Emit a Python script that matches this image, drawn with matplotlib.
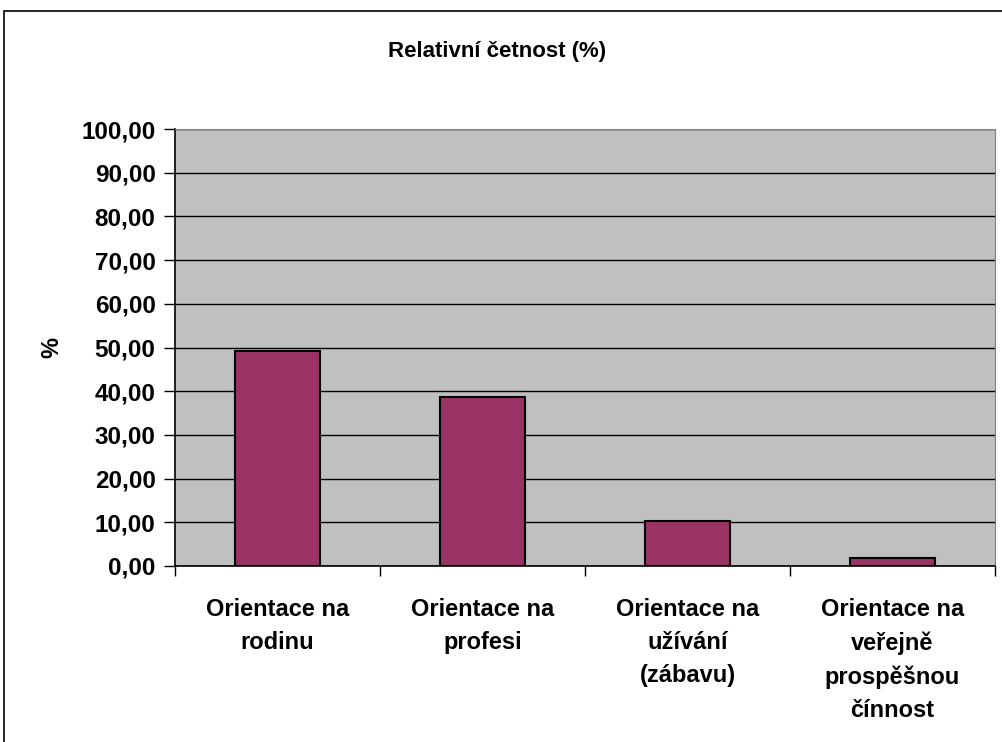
import matplotlib
matplotlib.use("Agg")
import matplotlib.pyplot as plt
from matplotlib.patches import Rectangle
import numpy as np

# ---------------------------------------------------------------------------
# Data
# ---------------------------------------------------------------------------
categories = [
    "Orientace na\nrodinu",
    "Orientace na\nprofesi",
    "Orientace na\nužívání\n(zábavu)",
    "Orientace na\nveřejně\nprospěšnou\nčínnost",
]
values = [49.1, 38.7, 10.4, 1.8]
y_ticks = np.arange(0, 101, 10)
y_tick_labels = [f"{v:.2f}".replace(".", ",") for v in y_ticks]

plt.rcParams["font.family"] = ["Liberation Sans", "DejaVu Sans"]
plt.rcParams["font.weight"] = "bold"

W, H = 1003, 742
fig = plt.figure(figsize=(W / 100, H / 100), dpi=100)
ax = fig.add_axes([175 / W, 1 - 566 / H, (995 - 175) / W, (566 - 129) / H])

x = np.arange(len(categories))
ax.bar(x, values, width=0.41, color="#993366", edgecolor="black", linewidth=1.5, zorder=3)

ax.set_xlim(-0.5, len(categories) - 0.5)
ax.set_ylim(0, 100)
ax.set_facecolor("#c0c0c0")

ax.set_yticks(y_ticks)
ax.set_yticklabels(y_tick_labels, fontsize=17.5, fontweight="bold")
ax.yaxis.grid(True, color="black", linewidth=1.0, zorder=1)
ax.tick_params(axis="y", length=8, width=1, pad=6)

# category boundaries carry the ticks, labels sit centred under bars
ax.set_xticks(np.arange(-0.5, len(categories), 1.0))
ax.set_xticklabels([])
ax.tick_params(axis="x", length=7, width=1)
for xi, lab in zip(x, categories):
    ax.text(xi, -7.4, lab, ha="center", va="top", fontsize=17, fontweight="bold",
            linespacing=1.55, transform=ax.transData)

for side in ("top", "right"):
    ax.spines[side].set_color("#808080")
for side in ("left", "bottom"):
    ax.spines[side].set_color("black")
    ax.spines[side].set_linewidth(1.2)

fig.text(52 / W, 1 - 348 / H, "%", rotation=90, ha="center", va="center",
         fontsize=17, fontweight="bold")
fig.text(497 / W, 1 - 51 / H, "Relativní četnost (%)",
         ha="center", va="center", fontsize=16, fontweight="bold")

# outer chart border
fig.patches.append(Rectangle((4 / W, -0.1), 1.2, 1 - 11 / H + 0.1,
                             transform=fig.transFigure, fill=False,
                             edgecolor="black", linewidth=1.2))

fig.savefig("out.png", dpi=100)
